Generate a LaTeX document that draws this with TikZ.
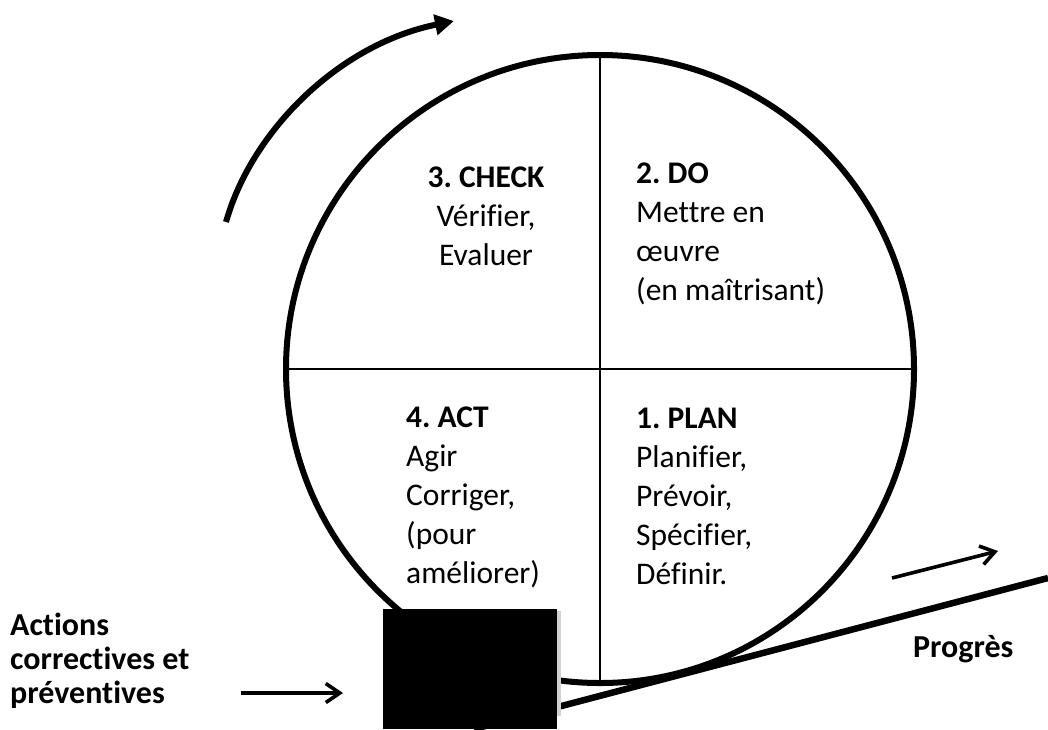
\documentclass[tikz,border=0pt]{standalone}
\usepackage{fontspec}
\setmainfont{Carlito}[Ligatures={NoCommon}]
\usetikzlibrary{arrows.meta}
\frenchspacing
\tikzset{
  wheel/.style={line width=6pt},
  divider/.style={line width=2.7pt},
  quad/.style={inner sep=0pt, align=left, anchor=base west, font=\fontsize{31.5}{39}\selectfont},
  sidetext/.style={inner sep=0pt, align=left, anchor=base west, font=\fontsize{32}{34}\selectfont\bfseries},
  thinarrow/.style={line width=3.6pt, -{Straight Barb[length=14pt,width=19pt,line width=3.6pt]}},
  bigarrow/.style={line width=6pt, -{Triangle[length=19pt,width=20pt]}},
  slope/.style={line width=6.5pt},
}
\begin{document}
\begin{tikzpicture}[x=1pt,y=-1pt]
\useasboundingbox[fill=white] (0,0) rectangle (1048,729);
\coordinate (c) at (600,369);
% wheel
\draw[wheel] (c) circle[radius=314];
\coordinate (top) at (600,55);
\coordinate (bot) at (600,683);
\coordinate (left) at (286,369);
\coordinate (right) at (914,369);
\draw[divider] (top) -- (bot);
\draw[divider] (left) -- (right);
% slope
\coordinate (s0) at (474,729);
\coordinate (s1) at (1048,578);
\draw[slope] (s0) -- (s1);
% wedge block
\fill[gray!35] (555,611) rectangle (561,716);
\fill[black] (383,609) rectangle (557,729);
% quadrant texts (anchored at the baseline of the last line)
\node[quad, align=center, anchor=base] (check) at (486,265) {\textbf{3. CHECK}\\Vérifier,\\Evaluer};
\node[quad] (do) at (636,300) {\textbf{2. DO}\\Mettre en\\œuvre\\(en maîtrisant)};
\node[quad] (act) at (406,583) {\textbf{4. ACT}\\Agir\\Corriger,\\(pour\\améliorer)};
\node[quad] (plan) at (636,584) {\textbf{1. PLAN}\\Planifier,\\Prévoir,\\Spécifier,\\Définir.};
% side texts
\node[sidetext] (actions) at (10,703) {Actions\\correctives et\\préventives};
\node[sidetext] (progres) at (913,657) {Progrès};
% arrows
\coordinate (a0) at (241,693);
\coordinate (a1) at (343,693);
\draw[thinarrow] (a0) -- (a1);
\coordinate (p0) at (892,578);
\coordinate (p1) at (998,551);
\draw[thinarrow] (p0) -- (p1);
\coordinate (r0) at (226,222);
\coordinate (r1) at (454,21);
\draw[bigarrow] (r0) .. controls (252,130) and (340,44) .. (r1);
\end{tikzpicture}
\end{document}
